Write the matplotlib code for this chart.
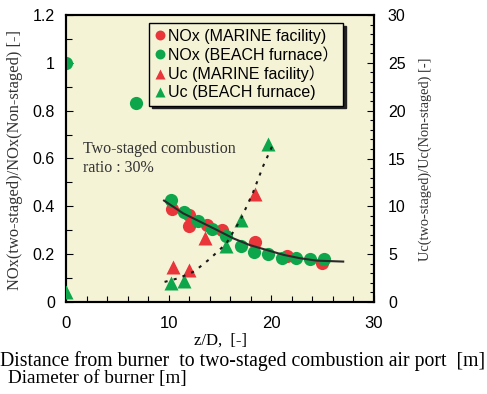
import matplotlib.pyplot as plt
import numpy as np

# Données
z_nox_marine = [10.3, 12.0, 12.0, 13.7, 15.2, 18.4, 21.5, 24.9]
nox_marine = [0.388, 0.364, 0.317, 0.322, 0.302, 0.250, 0.193, 0.162]

z_nox_beach = [0, 6.8, 10.2, 11.5, 12.9, 14.2, 15.6, 17.0, 18.3, 19.7, 21.0, 22.4, 23.8, 25.1]
nox_beach = [1.0, 0.83, 0.425, 0.378, 0.339, 0.304, 0.276, 0.236, 0.208, 0.200, 0.183, 0.183, 0.179, 0.179]

z_uc_marine = [10.45, 12.0, 13.5, 18.4]
uc_marine = [3.7, 3.3, 6.7, 11.3]

z_uc_beach = [0, 10.2, 11.5, 15.6, 17.0, 19.7]
uc_beach = [1.0, 2.0, 2.2, 5.9, 8.6, 16.5]

# Courbes de tendance
z_fit_nox = [9.55, 11.4, 13.05, 14.7, 16.3, 17.9, 19.5, 21.2, 22.8, 24.4, 27.0]
fit_nox = [0.424, 0.371, 0.336, 0.301, 0.266, 0.238, 0.218, 0.197, 0.183, 0.173, 0.169]

z_fit_uc = [9.6, 11.0, 12.5, 14.0, 15.6, 17.0, 18.2, 19.2, 20.3]
fit_uc = [2.1, 2.5, 3.2, 4.5, 6.1, 8.6, 11.4, 14.2, 16.8]

red = '#E8363A'
green = '#0EA64B'
serif = 'Liberation Serif'
sans = 'Liberation Sans'

fig = plt.figure(figsize=(4.87, 3.94), dpi=100)
ax = fig.add_axes([66/487, 92/394, 308/487, 287/394])
ax.set_facecolor('#F5F3D6')
ax2 = ax.twinx()

ax.plot(z_nox_marine, nox_marine, 'o', color=red, ms=9.5, mec='none', zorder=2, label='NOx (MARINE facility)')
ax.plot(z_nox_beach, nox_beach, 'o', color=green, ms=9.5, mec='none', zorder=3, label='NOx (BEACH furnace\uff09')
ax.plot(z_fit_nox, fit_nox, '-', color='#2a2a2a', lw=1.5, zorder=4)

ax2.plot(z_uc_marine, uc_marine, '^', color=red, ms=10, mec='none', zorder=2, label='Uc (MARINE facility\uff09')
ax2.plot(z_uc_beach, uc_beach, '^', color=green, ms=10, mec='none', zorder=3, label='Uc (BEACH furnace)')
ax2.plot(z_fit_uc, fit_uc, color='#1a1a1a', lw=1.5, ls=(0, (1.5, 3)), zorder=4)

ax.set_xlim(0, 30)
ax.set_ylim(0, 1.2)
ax2.set_ylim(0, 30)

ax.set_xticks([0, 10, 20, 30])
ax.set_xticks(np.arange(0, 31, 2), minor=True)
ax.set_yticks(np.arange(0, 1.21, 0.2))
ax.set_yticks(np.arange(0, 1.21, 0.1), minor=True)
ax.set_yticklabels(['0', '0.2', '0.4', '0.6', '0.8', '1', '1.2'])
ax2.set_yticks([0, 5, 10, 15, 20, 25, 30])
ax2.set_yticks(np.arange(0, 31, 1), minor=True)

ax.tick_params(which='both', direction='in', top=False, labelsize=11.5, width=0.8)
ax.tick_params(axis='x', which='major', length=5, pad=10, labelsize=12)
ax.tick_params(axis='x', which='minor', length=4)
ax.tick_params(axis='y', which='major', length=5, pad=8)
ax.tick_params(axis='y', which='minor', length=4)
ax2.tick_params(which='both', direction='in', labelsize=11.5, width=0.8)
ax2.tick_params(which='major', length=5, pad=10)
ax2.tick_params(which='minor', length=3)
for lab in ax.get_xticklabels() + ax.get_yticklabels() + ax2.get_yticklabels():
    lab.set_fontfamily(sans)
for a in (ax, ax2):
    for s in a.spines.values():
        s.set_linewidth(1.5)

h1, l1 = ax.get_legend_handles_labels()
h2, l2 = ax2.get_legend_handles_labels()
leg = ax2.legend(h1 + h2, l1 + l2, loc='upper left', bbox_to_anchor=(0.27, 0.972),
                 borderaxespad=0, prop={'family': [sans, 'Noto Sans CJK JP'], 'size': 11.5},
                 markerscale=0.75, handlelength=0.6, handletextpad=0.2, labelspacing=0.17,
                 borderpad=0.35, fancybox=False, shadow={'color': '#222222', 'alpha': 1},
                 framealpha=1, edgecolor='black', facecolor='#F5F3D6')
leg.get_frame().set_linewidth(1.0)

ax.text(0.055, 0.5, 'Two-staged combustion\nratio : 30%', transform=ax.transAxes,
        family=serif, size=11.5, color='#333333', va='center', ha='left', linespacing=1.25)

fig.text(15/487, 1 - 160/394, 'NOx(two-staged)/NOx(Non-staged) [-]', rotation=90,
         family=serif, size=11.9, ha='center', va='center', color='#333333')
fig.text(425/487, 1 - 159/394, 'Uc(two-staged)/Uc(Non-staged) [-]', rotation=90,
         family=serif, size=10.4, ha='center', va='center', color='#333333')
fig.text(220/487, 1 - 341/394, 'z/D,  [-]', family=serif, size=12, ha='center', va='center')
fig.text(0.0, 1 - 361/394, 'Distance from burner  to two-staged combustion air port  [m]',
         family=serif, size=14.2, ha='left', va='center')
fig.text(8/487, 1 - 379/394, 'Diameter of burner [m]', family=serif, size=13.8, ha='left', va='center')

fig.savefig('out.png', dpi=100)
